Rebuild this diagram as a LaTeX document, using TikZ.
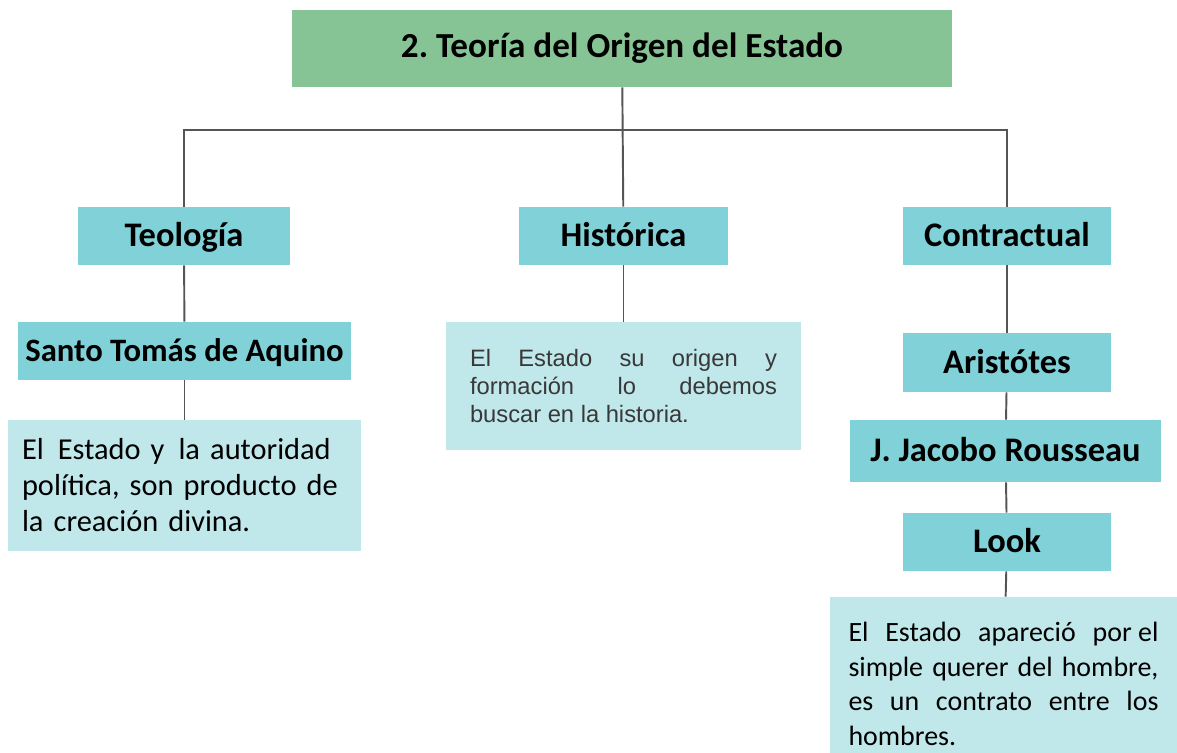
\documentclass[tikz,border=0pt]{standalone}
\usepackage{fontspec}
\setmainfont{Carlito}
\newfontfamily\arialfont{Liberation Sans}
\usepackage{tikz}
\definecolor{verde}{RGB}{134,196,149}
\definecolor{turquesa}{RGB}{128,209,216}
\definecolor{celeste}{RGB}{192,231,234}
\definecolor{linea}{RGB}{85,85,85}
\frenchspacing

\begin{document}
\begin{tikzpicture}[x=0.02cm,y=-0.02cm,
	titulo/.style={fill=verde,minimum width=13.2cm,minimum height=1.54cm,font=\fontsize{20}{24}\selectfont\bfseries},
	tema/.style={fill=turquesa,minimum width=4.18cm,minimum height=1.16cm,text height=13.5pt,text depth=1pt,font=\fontsize{19.6}{23}\selectfont\bfseries},
	nota/.style={fill=celeste,inner xsep=0pt,font=\fontsize{17.3}{20.5}\selectfont},
	enlace/.style={draw=linea,line width=1.1pt}]
	\useasboundingbox (0,0) rectangle (1177,753);

	\node[titulo] (Titulo) at (622,48.5) {2. Teoría del Origen del Estado};

	\node[tema,minimum width=4.26cm] (Teologia) at (184,236) {Teología};
	\node[tema] (Historica) at (623.5,236) {Histórica};
	\node[tema,minimum width=4.16cm] (Contractual) at (1007,236) {Contractual};

	\node[tema,minimum width=6.66cm,font=\fontsize{18.6}{22}\selectfont\bfseries] (SantoTomas) at (184.5,351) {Santo Tomás de Aquino};
	\node[nota,minimum width=7.06cm,minimum height=2.62cm,text width=6.5cm,align=left] (TextoTeologia) at (184.5,485.5)
		{El\hspace{8pt}Estado y\hspace{8pt}la autoridad\\política, son producto de\\la creación divina.};

	\node[nota,minimum width=7.1cm,minimum height=2.56cm,text width=6.14cm,align=justify,text=black!78,font=\arialfont\fontsize{13.5}{16}\selectfont] (TextoHistorica) at (623.5,386)
		{El Estado su origen y\linebreak formación lo debemos\linebreak buscar en la historia.};

	\node[tema,minimum width=4.16cm,minimum height=1.18cm] (Aristotes) at (1007,362.5) {Aristótes};
	\node[tema,minimum width=6.22cm,minimum height=1.24cm] (Rousseau) at (1005.5,451) {J. Jacobo Rousseau};
	\node[tema,minimum width=4.16cm] (Look) at (1007,542) {Look};
	\node[nota,minimum width=6.94cm,minimum height=3.48cm,text width=6.2cm,align=justify,font=\fontsize{15.9}{19.7}\selectfont] (TextoLook) at (1003.5,684)
		{El Estado apareció \mbox{por el}\linebreak simple querer del hombre,\linebreak es un contrato entre los\linebreak hombres.};

	\coordinate (Rama) at (624,130);

	\draw[enlace] (Titulo) -- (Historica);
	\draw[enlace] (Teologia) |- (Rama) -| (Contractual);
	\draw[enlace] (Teologia) -- (SantoTomas);
	\draw[enlace] (SantoTomas) -- (TextoTeologia);
	\draw[enlace] (Historica) -- (TextoHistorica);
	\draw[enlace] (Contractual) -- (Aristotes);
	\draw[enlace] (Aristotes) -- (Rousseau);
	\draw[enlace] (Rousseau) -- (Look);
	\draw[enlace] (Look) -- (TextoLook);
\end{tikzpicture}
\end{document}
